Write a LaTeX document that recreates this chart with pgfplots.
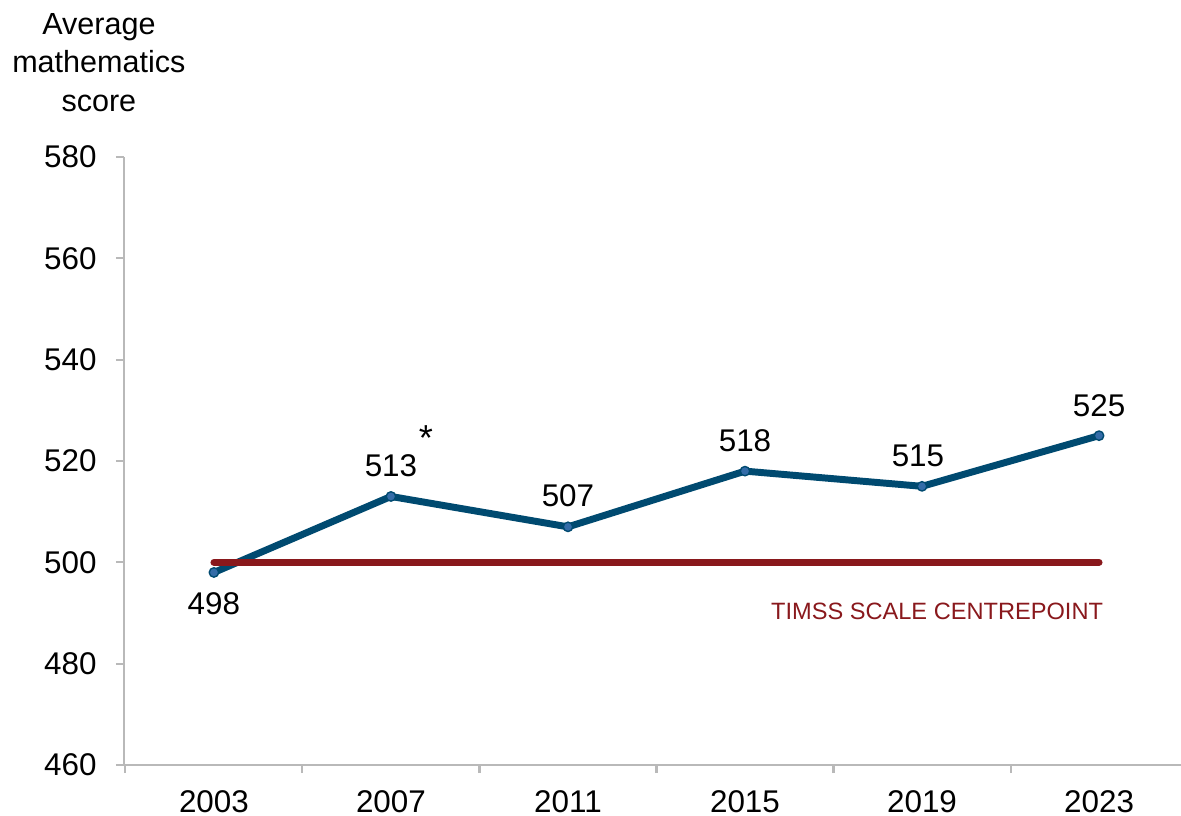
\documentclass[border=0pt]{standalone}
\usepackage{pgfplots}
\pgfplotsset{compat=1.18}
\usepackage{fontspec}
\setmainfont{Liberation Sans}
\definecolor{lineblue}{RGB}{0,74,112}
\definecolor{markblue}{RGB}{52,108,168}
\definecolor{centred}{RGB}{137,24,28}
\definecolor{axisgray}{RGB}{185,185,185}
\begin{document}
\begin{tikzpicture}
\useasboundingbox (0,0) rectangle (425.16pt,293.76pt);
\node[anchor=north, align=center, inner sep=0pt, font=\fontsize{11}{13.8}\selectfont] at (35.6pt,289.1pt) {Average\\mathematics\\score};
\begin{axis}[
  at={(44.64pt,18.36pt)}, anchor=south west,
  scale only axis,
  width=380.52pt, height=218.88pt,
  xmin=-0.508, xmax=5.463,
  ymin=460, ymax=580,
  axis lines*=left,
  axis line style={draw=axisgray, line width=0.75pt},
  tick align=outside,
  xtick={0,1,2,3,4,5},
  xticklabels={2003,2007,2011,2015,2019,2023},
  minor xtick={-0.5,0.5,1.5,2.5,3.5,4.5},
  ytick={460,480,...,580},
  major tick length=2.9pt,
  minor tick length=2.9pt,
  major x tick style={draw=none},
  every tick/.style={draw=axisgray, line width=0.75pt},
  /pgf/number format/assume math mode=true,
  /pgf/number format/1000 sep={},
  tick label style={font=\fontsize{11.3}{13}\selectfont, inner sep=0pt},
  yticklabel style={anchor=east, xshift=-6.8pt},
  xticklabel style={anchor=north, yshift=-6pt},
  clip=false,
]
\addplot[color=lineblue, line width=2.5pt, line join=round,
  mark=*, mark size=1.7pt, mark options={fill=markblue, draw=lineblue, line width=0.5pt}]
  coordinates {(0,498) (1,513) (2,507) (3,518) (4,515) (5,525)};
\addplot[color=centred, line width=2.5pt, line cap=round, mark=none]
  coordinates {(0,500) (5,500)};
\begin{scope}[every node/.style={font=\fontsize{11.3}{13}\selectfont, inner sep=0pt}]
\node at (axis cs:0,491.8) {498};
\node at (axis cs:1,519.0) {513};
\node[font=\fontsize{13}{15}\selectfont] at (axis cs:1.198,524.5) {*};
\node at (axis cs:2,513.1) {507};
\node at (axis cs:3,524.1) {518};
\node at (axis cs:3.977,521.0) {515};
\node at (axis cs:5,530.9) {525};
\end{scope}
\node[font=\fontsize{8.5}{10}\selectfont, text=centred, inner sep=0pt] at (axis cs:4.085,490.4) {TIMSS SCALE CENTREPOINT};
\end{axis}
\end{tikzpicture}
\end{document}
